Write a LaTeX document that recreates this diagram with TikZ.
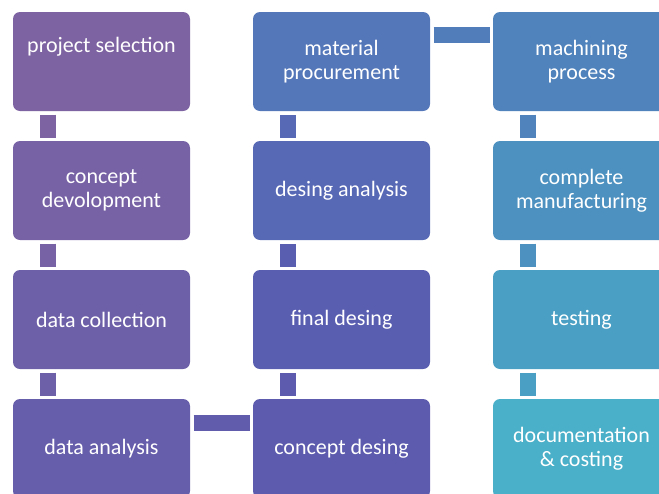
\documentclass[tikz,border=0pt]{standalone}
\usepackage{fontspec}
\setmainfont{Carlito}
\usepackage{xcolor}
\usetikzlibrary{calc,positioning,shapes}

\definecolor{c1}{HTML}{7E63A2}
\definecolor{c2}{HTML}{7762A6}
\definecolor{c3}{HTML}{6E60A8}
\definecolor{c4}{HTML}{665DAB}
\definecolor{c5}{HTML}{5C5BAE}
\definecolor{c6}{HTML}{5A5EB1}
\definecolor{c7}{HTML}{5768B5}
\definecolor{c8}{HTML}{5477BA}
\definecolor{c9}{HTML}{5083BC}
\definecolor{c10}{HTML}{4D91C0}
\definecolor{c11}{HTML}{4AA0C4}
\definecolor{c12}{HTML}{4AAFC8}

\begin{document}
\begin{tikzpicture}[
    x=1pt, y=-1pt,
    font=\fontsize{22}{24}\selectfont,
    stage/.style={rectangle, rounded corners=7pt, fill=#1, text=white,
      minimum width=177pt, minimum height=99pt, align=center,
      inner sep=2pt, outer sep=0pt},
    bar/.style={draw=#1, line width=16.5pt, shorten <=3.5pt, shorten >=3.5pt}]

    \useasboundingbox (0,0) rectangle (659,493);
    \clip (0,0) rectangle (659,493);

    % vertices

    \node[stage=c1] (ps) at (101.5,61.5) {project selection\\[9pt]\mbox{}};
    \node[stage=c2] (cd) at (101.5,190.5) {concept\\devolopment};
    \node[stage=c3] (dc) at (101.5,319.5) {data collection};
    \node[stage=c4] (da) at (101.5,448.5) {data analysis};

    \node[stage=c5] (cdes) at (341.5,448.5) {concept desing};
    \node[stage=c6] (fd) at (341.5,319.5) {final desing};
    \node[stage=c7] (dan) at (341.5,190.5) {desing analysis};
    \node[stage=c8] (mp) at (341.5,61.5) {material\\procurement};

    \node[stage=c9] (mach) at (581.5,61.5) {machining\\process};
    \node[stage=c10] (cm) at (581.5,190.5) {complete\\manufacturing};
    \node[stage=c11] (test) at (581.5,319.5) {testing};
    \node[stage=c12] (doc) at (581.5,448.5) {documentation\\\&{} costing};

    % edges

    \draw[bar=c1] ([xshift=35pt]ps.south west) -- ([xshift=35pt]cd.north west);
    \draw[bar=c2] ([xshift=35pt]cd.south west) -- ([xshift=35pt]dc.north west);
    \draw[bar=c3] ([xshift=35pt]dc.south west) -- ([xshift=35pt]da.north west);
    \draw[bar=c4!50!c5] ([yshift=-24pt]da.north east) -- ([yshift=-24pt]cdes.north west);
    \draw[bar=c5] ([xshift=35pt]cdes.north west) -- ([xshift=35pt]fd.south west);
    \draw[bar=c6] ([xshift=35pt]fd.north west) -- ([xshift=35pt]dan.south west);
    \draw[bar=c7] ([xshift=35pt]dan.north west) -- ([xshift=35pt]mp.south west);
    \draw[bar=c8!50!c9] ([yshift=-23pt]mp.north east) -- ([yshift=-23pt]mach.north west);
    \draw[bar=c9] ([xshift=35pt]mach.south west) -- ([xshift=35pt]cm.north west);
    \draw[bar=c10] ([xshift=35pt]cm.south west) -- ([xshift=35pt]test.north west);
    \draw[bar=c11] ([xshift=35pt]test.south west) -- ([xshift=35pt]doc.north west);
\end{tikzpicture}
\end{document}
